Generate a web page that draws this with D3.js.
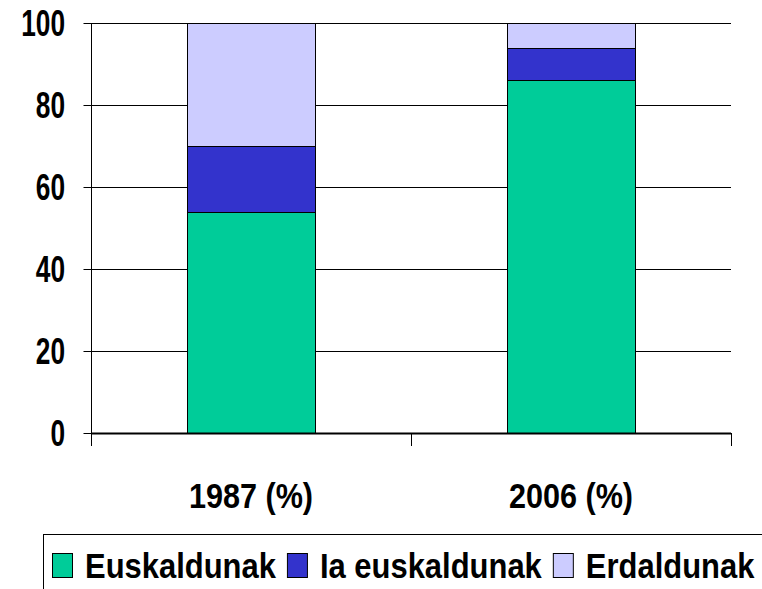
<!DOCTYPE html>
<html><head><meta charset="utf-8">
<script src="https://cdn.jsdelivr.net/npm/d3@7"></script>
<style>body{margin:0;background:#fff}svg{display:block}text{font-family:"Liberation Sans",Arial,sans-serif;font-weight:bold;fill:#000}</style>
</head><body><svg id="c" width="762" height="589"></svg>
<script>
const categories = ["1987 (%)", "2006 (%)"];
const seriesNames = ["Euskaldunak", "Ia euskaldunak", "Erdaldunak"];
const euskaldunak = [54, 86];
const iaEuskaldunak = [16, 8];
const erdaldunak = [30, 6];
const yTicks = [0, 20, 40, 60, 80, 100];
const colors = ["#00CC99", "#3333CC", "#CCCCFF"];

const svg = d3.select("#c");
const pL = 91, pR = 731, pT = 23, pB = 433;
const x = d3.scaleBand().domain(categories).range([pL, pR]).paddingInner(0.6).paddingOuter(0.3);
const y = d3.scaleLinear().domain([0, 100]).range([pB, pT]);

const rows = categories.map((c, i) => ({cat: c, Euskaldunak: euskaldunak[i], "Ia euskaldunak": iaEuskaldunak[i], Erdaldunak: erdaldunak[i]}));
const stacked = d3.stack().keys(seriesNames)(rows);

// gridlines
svg.append("g").selectAll("line").data(yTicks.filter(d => d > 0)).join("line")
  .attr("x1", pL).attr("x2", pR).attr("y1", d => Math.round(y(d)) + 0.5).attr("y2", d => Math.round(y(d)) + 0.5)
  .attr("stroke", "#000").attr("stroke-width", 1);

// y axis
const yAxis = svg.append("g").attr("transform", `translate(${pL + 0.5},0)`)
  .call(d3.axisLeft(y).tickValues(yTicks).tickSize(8).tickFormat(""));
yAxis.select(".domain").attr("d", `M0,${pT}V${pB + 13}`).attr("stroke", "#000");
yAxis.selectAll(".tick line").attr("stroke", "#000");
svg.append("g").selectAll("g").data(yTicks).join("g")
  .attr("transform", d => `translate(65,${y(d) + 13}) scale(0.73,1)`)
  .append("text").attr("text-anchor", "end").attr("font-size", 36).text(d => d);

// bars
svg.append("g").selectAll("g").data(stacked).join("g")
  .attr("fill", (d, i) => colors[i])
  .selectAll("rect").data(d => d).join("rect")
  .attr("x", d => Math.round(x(d.data.cat)) + 0.5)
  .attr("width", Math.round(x.bandwidth()))
  .attr("y", d => Math.round(y(d[1])) + 0.5)
  .attr("height", d => Math.round(y(d[0])) - Math.round(y(d[1])))
  .attr("stroke", "#000").attr("stroke-width", 1);

// x axis
const xEdges = [pL, (pL + pR) / 2, pR];
svg.append("line").attr("x1", pL).attr("x2", pR).attr("y1", pB + 0.5).attr("y2", pB + 0.5)
  .attr("stroke", "#000").attr("stroke-width", 2);
svg.append("g").selectAll("line").data(xEdges).join("line")
  .attr("x1", d => d + 0.5).attr("x2", d => d + 0.5).attr("y1", pB).attr("y2", pB + 13)
  .attr("stroke", "#000");
svg.append("g").selectAll("g").data(categories).join("g")
  .attr("transform", d => `translate(${x(d) + x.bandwidth() / 2},508) scale(0.85,1)`)
  .append("text").attr("text-anchor", "middle").attr("font-size", 36).text(d => d);

// legend
svg.append("rect").attr("x", 43.5).attr("y", 534.5).attr("width", 800).attr("height", 100)
  .attr("fill", "#fff").attr("stroke", "#000").attr("stroke-width", 1);
let lx = 52;
seriesNames.forEach((name, i) => {
  svg.append("rect").attr("x", lx + 0.5).attr("y", 553.5).attr("width", 20).attr("height", 24)
    .attr("fill", colors[i]).attr("stroke", "#000").attr("stroke-width", 1);
  const g = svg.append("g").attr("transform", `translate(${lx + 33},578) scale(0.86,1)`);
  const t = g.append("text").attr("font-size", 36).text(name);
  const w = t.node().getComputedTextLength() * 0.86;
  lx = lx + 33 + w + 11;
});
</script></body></html>
